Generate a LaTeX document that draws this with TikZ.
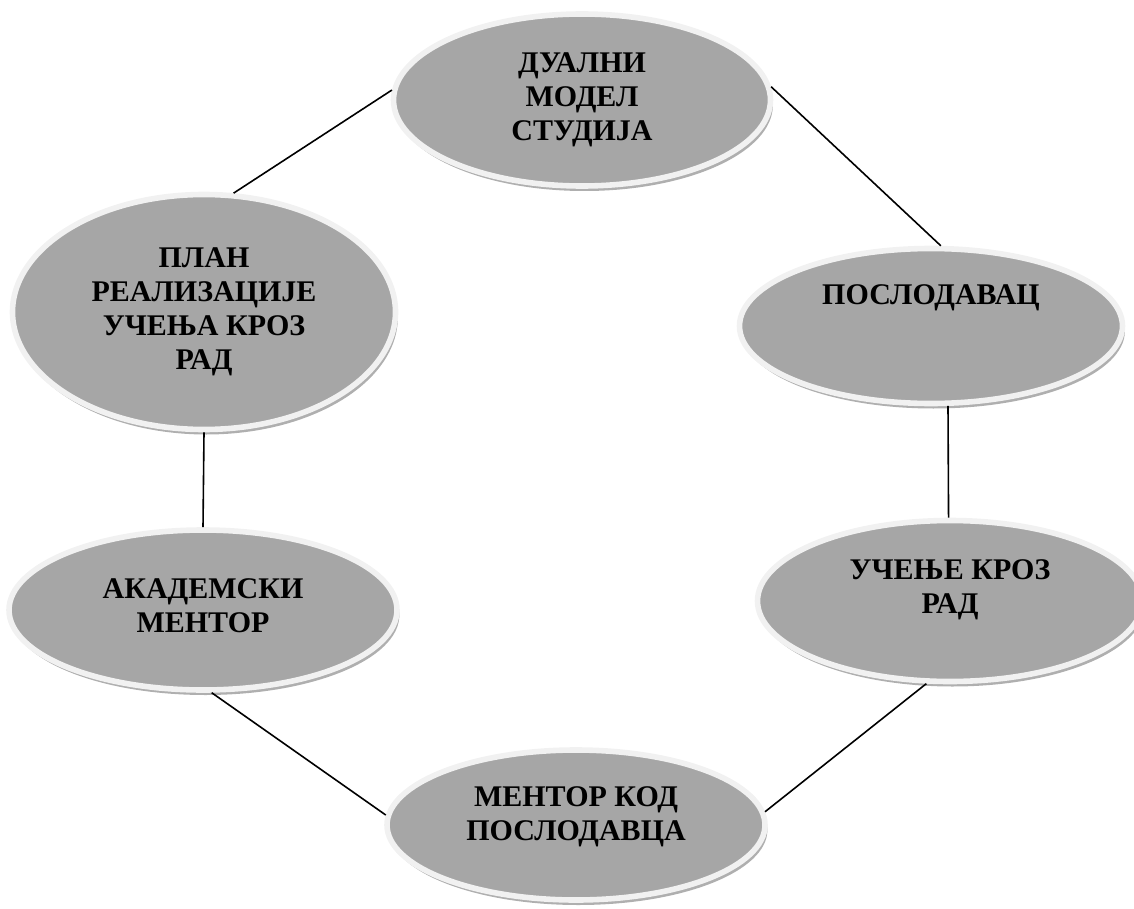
\documentclass[tikz,border=0pt]{standalone}
\usepackage{fontspec}
\setmainfont{Liberation Serif}
\newfontfamily\bubblefont{Liberation Serif}[BoldFont={Liberation Serif Bold}]
\usetikzlibrary{shapes.geometric,shadows}

\definecolor{bubblefill}{RGB}{166,166,166}
\definecolor{bubblering}{RGB}{241,241,241}
\definecolor{bubbleshadow}{RGB}{175,175,175}

\begin{document}
\begin{tikzpicture}[x=0.5pt,y=-0.5pt,
  bubble/.style={ellipse,fill=bubblefill,draw=bubblering,line width=2.8pt,inner sep=0pt,
    drop shadow={shadow xshift=1.2pt,shadow yshift=-2.5pt,fill=bubbleshadow,opacity=1}},
  caption/.style={font=\bubblefont\bfseries\fontsize{15}{17}\selectfont,align=center,text=black},
  link/.style={line width=0.8pt}]

  \clip (0,0) rectangle (1134,909);

  \node[bubble,minimum width=188.5pt,minimum height=86pt,
    label={[caption]center:{ДУАЛНИ\\МОДЕЛ\\СТУДИЈА}}] (dual) at (582,100) {};
  \node[bubble,minimum width=191.5pt,minimum height=117.5pt,
    label={[caption]center:{ПЛАН\\РЕАЛИЗАЦИЈЕ\\УЧЕЊА КРОЗ\\РАД}}] (plan) at (204,312) {};
  \node[bubble,minimum width=191.5pt,minimum height=77.5pt,
    label={[caption,yshift=14pt]center:{ПОСЛОДАВАЦ}}] (employer) at (931,326) {};
  \node[bubble,minimum width=194pt,minimum height=80pt,
    label={[caption,yshift=2pt]center:{АКАДЕМСКИ\\МЕНТОР}}] (academic) at (203,610) {};
  \node[bubble,minimum width=192.5pt,minimum height=80.5pt,
    label={[caption,yshift=5.5pt]center:{УЧЕЊЕ КРОЗ\\РАД}}] (learning) at (950,601) {};
  \node[bubble,minimum width=189pt,minimum height=75pt,
    label={[caption,yshift=4pt]center:{МЕНТОР КОД\\ПОСЛОДАВЦА}}] (mentor) at (576,825) {};

  \draw[link] (dual.177) -- (plan.76);
  \draw[link] (dual.4) -- (employer.83);
  \draw[link] (plan.-90) -- (academic.90);
  \draw[link] (employer.-78) -- (learning.91);
  \draw[link] (learning.254) -- (mentor.4);
  \draw[link] (academic.-84) -- (mentor.177);
\end{tikzpicture}
\end{document}
